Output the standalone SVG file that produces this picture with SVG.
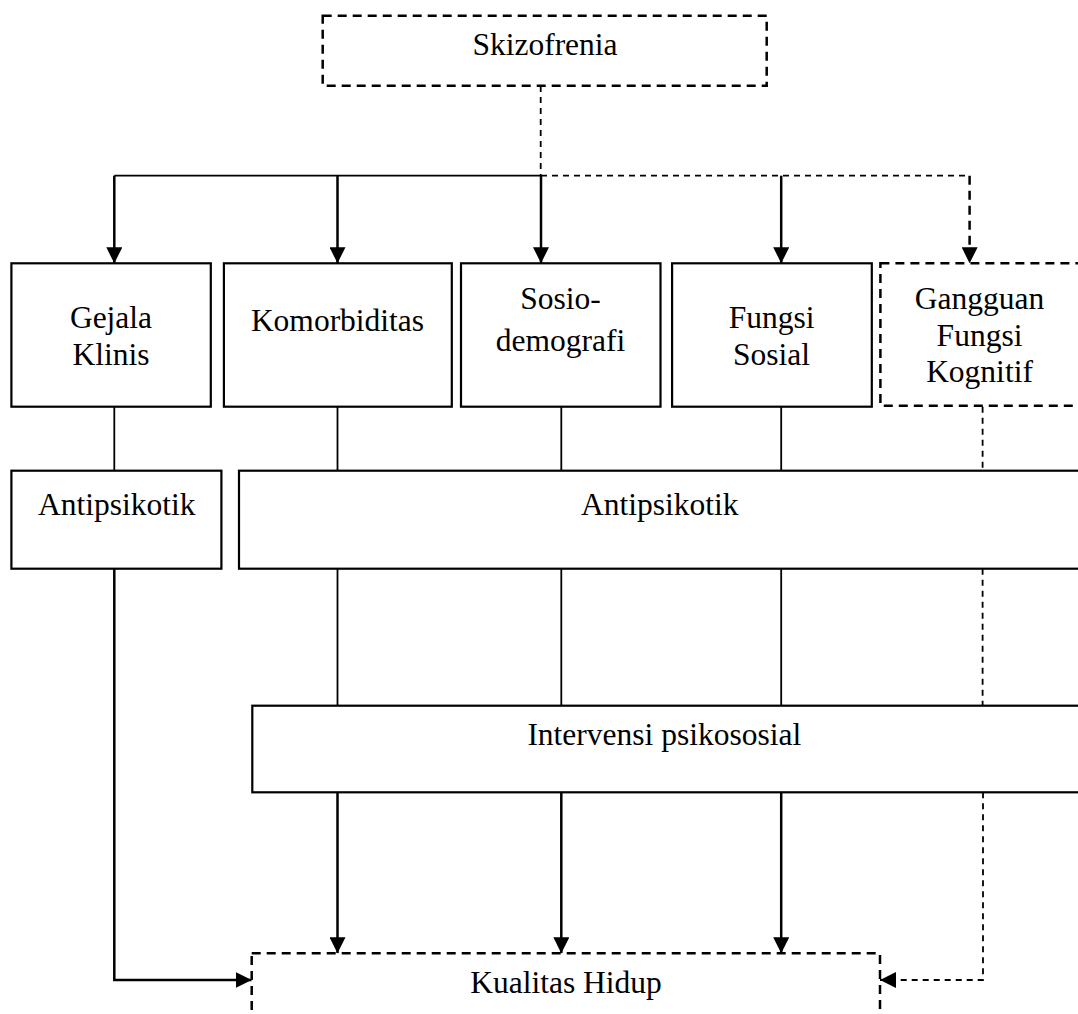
<svg xmlns="http://www.w3.org/2000/svg" width="1078" height="1014" viewBox="0 0 1078 1014">
<style>
.box{fill:#fff;stroke:#000;stroke-width:2.2}
.dbox{fill:#fff;stroke:#000;stroke-width:2.5;stroke-dasharray:9 6}
.t{font-family:"Liberation Serif","Times New Roman",serif;font-size:31.5px;fill:#000;text-anchor:middle}
.ln{fill:none;stroke:#000;stroke-width:1.8}
.ar{fill:none;stroke:#000;stroke-width:2.5}
.dl{fill:none;stroke:#000;stroke-width:1.8;stroke-dasharray:6 5}
.dla{fill:none;stroke:#000;stroke-width:2.5;stroke-dasharray:9 6}
</style>
<defs>
<marker id="ah" markerUnits="userSpaceOnUse" markerWidth="16" markerHeight="16" viewBox="0 0 15 15" refX="15" refY="7.5" orient="auto">
<path d="M0,0 L15,7.5 L0,15 z" fill="#000"/>
</marker>
</defs>

<g id="connectors">
<path class="dl" d="M540.7,86 V175.7"/>
<path class="ln" d="M114.3,175.7 H541"/>
<path class="ar" d="M114.3,175.7 V263.3" marker-end="url(#ah)"/>
<path class="ar" d="M337.5,175.7 V263.3" marker-end="url(#ah)"/>
<path class="ar" d="M541,175.7 V263.3" marker-end="url(#ah)"/>
<path class="dl" d="M541,175.7 H969.6"/>
<path class="dla" d="M969.6,175.7 V263.3" marker-end="url(#ah)"/>
<path class="ar" d="M781.2,175.7 V263.3" marker-end="url(#ah)"/>
<path class="ln" d="M114.3,406.7 V470.7 M337.5,406.7 V470.7 M561.3,406.7 V470.7 M781.2,406.7 V470.7"/>
<path class="dl" d="M982.6,406.7 V470.7"/>
<path class="ln" d="M337.5,568.7 V705.7 M561.3,568.7 V705.7 M781.2,568.7 V705.7"/>
<path class="dl" d="M982.6,568.7 V705.7"/>
<path class="ar" d="M114.3,568.7 V980 H251.7" marker-end="url(#ah)"/>
<path class="ar" d="M337.5,792.3 V953.3" marker-end="url(#ah)"/>
<path class="ar" d="M561.3,792.3 V953.3" marker-end="url(#ah)"/>
<path class="ar" d="M781.2,792.3 V953.3" marker-end="url(#ah)"/>
<path class="dl" d="M983,792.3 V980 H880" marker-end="url(#ah)"/>
</g>

<g id="skizofrenia">
<rect class="dbox" x="322.7" y="15.7" width="444" height="70"/>
<text class="t" x="545" y="55">Skizofrenia</text>
</g>

<g id="gejala-klinis">
<rect class="box" x="11.4" y="263.3" width="199.4" height="143.4"/>
<text class="t" x="111" y="328.3">Gejala</text>
<text class="t" x="111" y="364.5">Klinis</text>
</g>

<g id="komorbiditas">
<rect class="box" x="223.9" y="263.3" width="227.9" height="143.4"/>
<text class="t" x="337.5" y="331">Komorbiditas</text>
</g>

<g id="sosiodemografi">
<rect class="box" x="461" y="263.3" width="199.5" height="143.4"/>
<text class="t" x="560.5" y="309.3">Sosio-</text>
<text class="t" x="560.5" y="350.7">demografi</text>
</g>

<g id="fungsi-sosial">
<rect class="box" x="672.1" y="263.3" width="199.7" height="143.4"/>
<text class="t" x="771.6" y="328.3">Fungsi</text>
<text class="t" x="771.6" y="364.5">Sosial</text>
</g>

<g id="gangguan-fungsi-kognitif">
<rect class="dbox" x="880.4" y="263.3" width="220" height="142.4"/>
<text class="t" x="979.5" y="309.3">Gangguan</text>
<text class="t" x="979.5" y="345.5">Fungsi</text>
<text class="t" x="979.5" y="382">Kognitif</text>
</g>

<g id="antipsikotik-1">
<rect class="box" x="11.4" y="470.7" width="210" height="98"/>
<text class="t" x="116.8" y="515">Antipsikotik</text>
</g>

<g id="antipsikotik-2">
<rect class="box" x="239" y="470.7" width="860" height="98"/>
<text class="t" x="659.8" y="515">Antipsikotik</text>
</g>

<g id="intervensi-psikososial">
<rect class="box" x="252.3" y="705.7" width="850" height="86.6"/>
<text class="t" x="664.3" y="745">Intervensi psikososial</text>
</g>

<g id="kualitas-hidup">
<rect class="dbox" x="251.7" y="953.3" width="628.3" height="90"/>
<text class="t" x="566" y="993.3">Kualitas Hidup</text>
</g>
</svg>
